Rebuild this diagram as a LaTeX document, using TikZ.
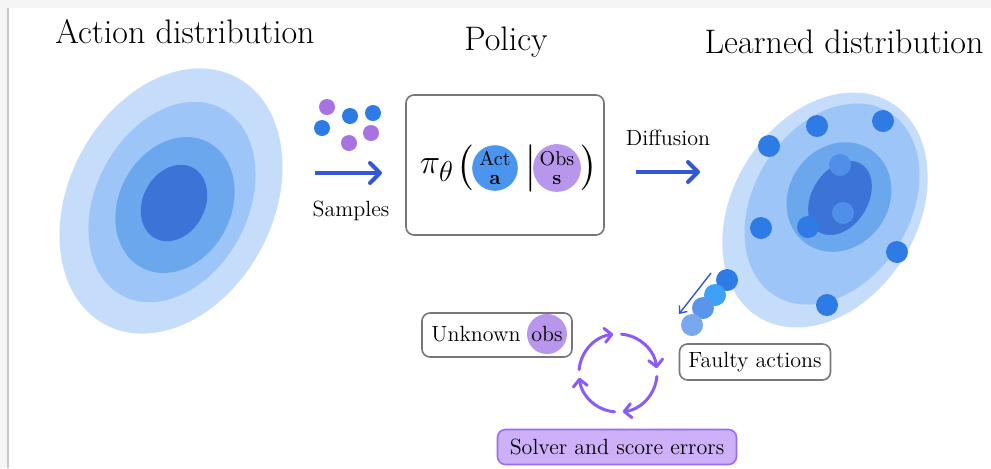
\documentclass[tikz,border=0pt]{standalone}
\usepackage{amsmath, amssymb}
\usepackage{tikz}
\usetikzlibrary{arrows.meta}

\definecolor{ringA}{HTML}{C5DCFB}
\definecolor{ringB}{HTML}{9DC5F8}
\definecolor{ringC}{HTML}{6AA7EC}
\definecolor{ringD}{HTML}{3B74D6}
\definecolor{dotblue}{HTML}{2F7BE6}
\definecolor{dotcyan}{HTML}{3DA2F7}
\definecolor{dotpurple}{HTML}{A872E0}
\definecolor{actblue}{HTML}{4B95EF}
\definecolor{obspurple}{HTML}{B796EC}
\definecolor{arrowblue}{HTML}{3458D0}
\definecolor{cycpurple}{HTML}{8A5CF5}
\definecolor{boxgray}{HTML}{777777}
\definecolor{errfill}{HTML}{CDB0F7}
\definecolor{errdraw}{HTML}{9B6CF2}

\tikzset{
  titletext/.style={font=\fontsize{17}{20}\selectfont},
  smalltext/.style={font=\fontsize{11}{13}\selectfont},
  mathtext/.style={font=\fontsize{19}{20}\selectfont, inner sep=0pt},
  greybox/.style={draw=boxgray, line width=0.8pt, rounded corners=4pt, fill=white, inner sep=0pt},
  bigarrow/.style={draw=arrowblue, line width=2pt, -{Straight Barb[length=5pt, width=10pt, round]}},
  cycarrow/.style={draw=cycpurple, line width=1.5pt, line cap=round, -{Straight Barb[length=3.5pt, width=7pt, round]}},
  ballnode/.style={circle, inner sep=0pt, minimum size=22.5pt, align=center, font=\fontsize{10}{9.5}\selectfont}
}

\begin{document}
\begin{tikzpicture}[x=0.5pt, y=-0.5pt]
\useasboundingbox (0,0) rectangle (991,468);
\fill[white] (0,0) rectangle (991,468);
\fill[black!4] (0,0) rectangle (991,8);
\fill[black!4] (0,0) rectangle (8,468);
\draw[black!22, line width=0.8pt] (8,8) -- (8,468);

\node[titletext] (tact) at (185,32) {Action distribution};
\node[titletext] (tpol) at (506,42) {Policy};
\node[titletext] (tlrn) at (844,42) {Learned distribution};

\fill[ringA, rotate around={62:(171,201)}] (171,201) ellipse (140 and 102);
\fill[ringB, rotate around={62:(172,202)}] (172,202) ellipse (106 and 76);
\fill[ringC, rotate around={62:(175,205)}] (175,205) ellipse (71 and 56);
\fill[ringD, rotate around={62:(174,203)}] (174,203) ellipse (40 and 31);

\fill[dotpurple] (327,107) circle (8);
\fill[dotblue] (350,116) circle (8);
\fill[dotblue] (373,113) circle (8);
\fill[dotblue] (322,128) circle (8);
\fill[dotpurple] (371,133) circle (8);
\fill[dotpurple] (349,143) circle (8);

\coordinate (s1) at (315,173);
\coordinate (s2) at (382,173);
\draw[bigarrow] (s1) -- (s2);
\node[smalltext] (samples) at (351,211) {Samples};

\node[greybox, minimum width=99pt, minimum height=70pt] (policy) at (505,165) {};
\node[mathtext] (pi) at (437,170) {$\pi_{\theta}$};
\node[mathtext] (lp) at (465,168) {$\bigl($};
\node[ballnode, fill=actblue] (act) at (495,168) {Act\\$\mathbf{a}$};
\node[mathtext] (bar) at (531,168) {$\big|$};
\node[ballnode, fill=obspurple] (obs) at (557,168) {Obs\\$\mathbf{s}$};
\node[mathtext] (rp) at (589,168) {$\bigr)$};

\node[smalltext] (diff) at (668,138) {Diffusion};
\coordinate (d1) at (636,172);
\coordinate (d2) at (700,172);
\draw[bigarrow] (d1) -- (d2);

\fill[ringA, rotate around={58:(825,210)}] (825,210) ellipse (126 and 92);
\fill[ringB, rotate around={58:(832,204)}] (832,204) ellipse (108 and 78);
\fill[ringC, rotate around={55:(839,197)}] (839,197) ellipse (57 and 50);
\fill[ringD, rotate around={58:(840,198)}] (840,198) ellipse (40 and 28);

\fill[dotblue] (769,146) circle (11);
\fill[dotblue] (817,126) circle (11);
\fill[dotblue] (883,121) circle (11);
\fill[dotblue!85!white] (840,165) circle (11);
\fill[dotblue!85!white] (843,213) circle (11);
\fill[dotblue] (808,227) circle (11);
\fill[dotblue] (761,228) circle (11);
\fill[dotblue] (897,252) circle (11);
\fill[dotblue] (827,305) circle (11);

\fill[dotblue] (727,280) circle (11);
\fill[dotcyan] (715,295) circle (11);
\fill[dotblue!80!white] (703,308) circle (11);
\fill[dotblue!65!white] (692,325) circle (11);
\coordinate (f1) at (711,273);
\coordinate (f2) at (679,314);
\draw[arrowblue, line width=0.7pt, -{Straight Barb[length=3pt, width=5pt]}] (f1) -- (f2);

\node[greybox, smalltext, minimum width=75.5pt, minimum height=18pt] (faulty) at (755,362) {Faulty actions};

\node[greybox, minimum width=75pt, minimum height=22pt] (unknown) at (497,335) {};
\node[fill=obspurple, circle, inner sep=0pt, minimum size=20pt] (obsball) at (547,334) {};
\node[smalltext] (unk) at (476,334) {Unknown};
\node[smalltext] (obstxt) at (547,334) {obs};

\coordinate (cyc) at (618,373);
\foreach \a in {-175,-85,5,95}
  \draw[cycarrow] (cyc) ++(\a:39) arc (\a:\a+78:39);

\node[smalltext, draw=errdraw, fill=errfill, line width=0.8pt, rounded corners=4pt, minimum width=119.5pt, minimum height=17.5pt, inner sep=0pt] (errors) at (617,447) {Solver and score errors};
\end{tikzpicture}
\end{document}
